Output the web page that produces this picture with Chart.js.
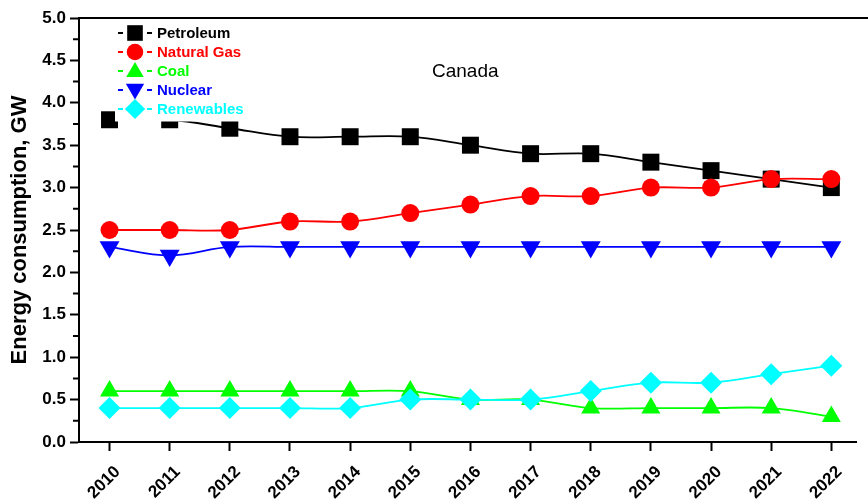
<!DOCTYPE html>
<html>
<head>
<meta charset="utf-8">
<title>Canada energy consumption</title>
<script src="https://cdn.jsdelivr.net/npm/chart.js@4.4.1/dist/chart.umd.min.js"></script>
<style>
  html, body { margin: 0; padding: 0; background: #fff; overflow: hidden; }
</style>
</head>
<body>
<canvas id="grafico" width="868" height="502"></canvas>
<script>
// consumo por fuente, GW
const years = [2010, 2011, 2012, 2013, 2014, 2015, 2016, 2017, 2018, 2019, 2020, 2021, 2022];
const petroleum = [3.8, 3.8, 3.7, 3.6, 3.6, 3.6, 3.5, 3.4, 3.4, 3.3, 3.2, 3.1, 3.0];
const naturalGas = [2.5, 2.5, 2.5, 2.6, 2.6, 2.7, 2.8, 2.9, 2.9, 3.0, 3.0, 3.1, 3.1];
const coal = [0.6, 0.6, 0.6, 0.6, 0.6, 0.6, 0.5, 0.5, 0.4, 0.4, 0.4, 0.4, 0.3];
const nuclear = [2.3, 2.2, 2.3, 2.3, 2.3, 2.3, 2.3, 2.3, 2.3, 2.3, 2.3, 2.3, 2.3];
const renewables = [0.4, 0.4, 0.4, 0.4, 0.4, 0.5, 0.5, 0.5, 0.6, 0.7, 0.7, 0.8, 0.9];
const yTicks = [0, 0.5, 1.0, 1.5, 2.0, 2.5, 3.0, 3.5, 4.0, 4.5, 5.0];

const FONT = "'Liberation Sans', Arial, sans-serif";

const series = [
  { label: 'Petroleum',   data: petroleum,  color: '#000000', style: 'rect',     radius: 12,  rotation: 0 },
  { label: 'Natural Gas', data: naturalGas, color: '#ff0000', style: 'circle',   radius: 9,   rotation: 0 },
  { label: 'Coal',        data: coal,       color: '#00ff00', style: 'triangle', radius: 11,  rotation: 0 },
  { label: 'Nuclear',     data: nuclear,    color: '#0000ff', style: 'triangle', radius: 11.5, rotation: 180 },
  { label: 'Renewables',  data: renewables, color: '#00ffff', style: 'rectRot',  radius: 11,  rotation: 0 }
];

// leyenda propia, caja blanca dentro del area del grafico
const leyenda = {
  id: 'leyenda',
  afterDatasetsDraw(chart) {
    const ctx = chart.ctx;
    const area = chart.chartArea;
    ctx.save();
    ctx.fillStyle = '#fff';
    ctx.fillRect(115, 22, 140, 99.5);

    series.forEach((s, i) => {
      const y = 33 + i * 19;
      ctx.strokeStyle = s.color;
      ctx.fillStyle = s.color;
      ctx.lineWidth = 2;
      ctx.beginPath();
      ctx.moveTo(118, y); ctx.lineTo(123, y);
      ctx.moveTo(147, y); ctx.lineTo(152, y);
      ctx.stroke();
      Chart.helpers.drawPoint(ctx, {
        pointStyle: s.style, radius: s.radius * 0.92, rotation: s.rotation, borderWidth: 0
      }, 135, y + (s.style === 'triangle' ? (s.rotation ? -1 : 1) : 0));
      ctx.font = 'bold 15px ' + FONT;
      ctx.textBaseline = 'middle';
      ctx.textAlign = 'left';
      ctx.fillText(s.label, 157, y + 1);
    });

    ctx.fillStyle = '#000';
    ctx.font = '19px ' + FONT;
    ctx.textBaseline = 'middle';
    ctx.fillText('Canada', 432, 72);

    // borde superior
    ctx.strokeStyle = '#000';
    ctx.lineWidth = 2;
    ctx.beginPath();
    ctx.moveTo(area.left - 1, area.top);
    ctx.lineTo(chart.width, area.top);
    ctx.stroke();

    // marcas menores del eje y
    const ys = chart.scales.y;
    ctx.beginPath();
    for (let i = 0; i < yTicks.length - 1; i++) {
      const py = ys.getPixelForValue((yTicks[i] + yTicks[i + 1]) / 2);
      ctx.moveTo(area.left, py);
      ctx.lineTo(area.left - 6, py);
    }
    ctx.stroke();
    ctx.restore();
  }
};

new Chart(document.getElementById('grafico'), {
  type: 'line',
  data: {
    datasets: series.map((s, i) => ({
      label: s.label,
      data: years.map((yr, j) => ({ x: yr, y: s.data[j] })),
      borderColor: s.color,
      backgroundColor: s.color,
      borderWidth: 1.8,
      tension: 0.35,
      pointStyle: s.style,
      pointRadius: s.radius,
      pointRotation: s.rotation,
      pointBorderWidth: 0,
      pointBackgroundColor: s.color,
      order: series.length - i,
      fill: false
    }))
  },
  options: {
    responsive: false,
    animation: false,
    events: [],
    layout: { padding: { top: 18, right: 0, left: 0, bottom: 0 } },
    plugins: {
      legend: { display: false },
      tooltip: { enabled: false }
    },
    scales: {
      x: {
        type: 'linear',
        min: 2009.4925,
        max: 2022.41,
        afterBuildTicks: s => { s.ticks = years.map(v => ({ value: v })); },
        ticks: {
          callback: v => String(v),
          minRotation: 45,
          maxRotation: 45,
          color: '#000',
          padding: 11,
          labelOffset: 8,
          font: { family: FONT, size: 17, weight: 'bold' }
        },
        grid: { drawOnChartArea: false, tickLength: 9, tickColor: '#000', tickWidth: 2 },
        border: { display: true, color: '#000', width: 2 },
        afterFit: s => { s.height = 60; s.paddingLeft = 0; s.paddingRight = 0; }
      },
      y: {
        min: 0,
        max: 5,
        afterBuildTicks: s => { s.ticks = yTicks.map(v => ({ value: v })); },
        ticks: {
          callback: v => v.toFixed(1),
          color: '#000',
          padding: 4,
          font: { family: FONT, size: 17, weight: 'bold' }
        },
        grid: { drawOnChartArea: false, tickLength: 9, tickColor: '#000', tickWidth: 2 },
        border: { display: true, color: '#000', width: 2 },
        title: {
          display: true,
          text: 'Energy consumption, GW',
          color: '#000',
          padding: { top: 7, bottom: 0 },
          font: { family: FONT, size: 22, weight: 'bold' }
        },
        afterFit: s => { s.width = 79; s.paddingTop = 0; s.paddingBottom = 0; }
      }
    }
  },
  plugins: [leyenda]
});
</script>
</body>
</html>
